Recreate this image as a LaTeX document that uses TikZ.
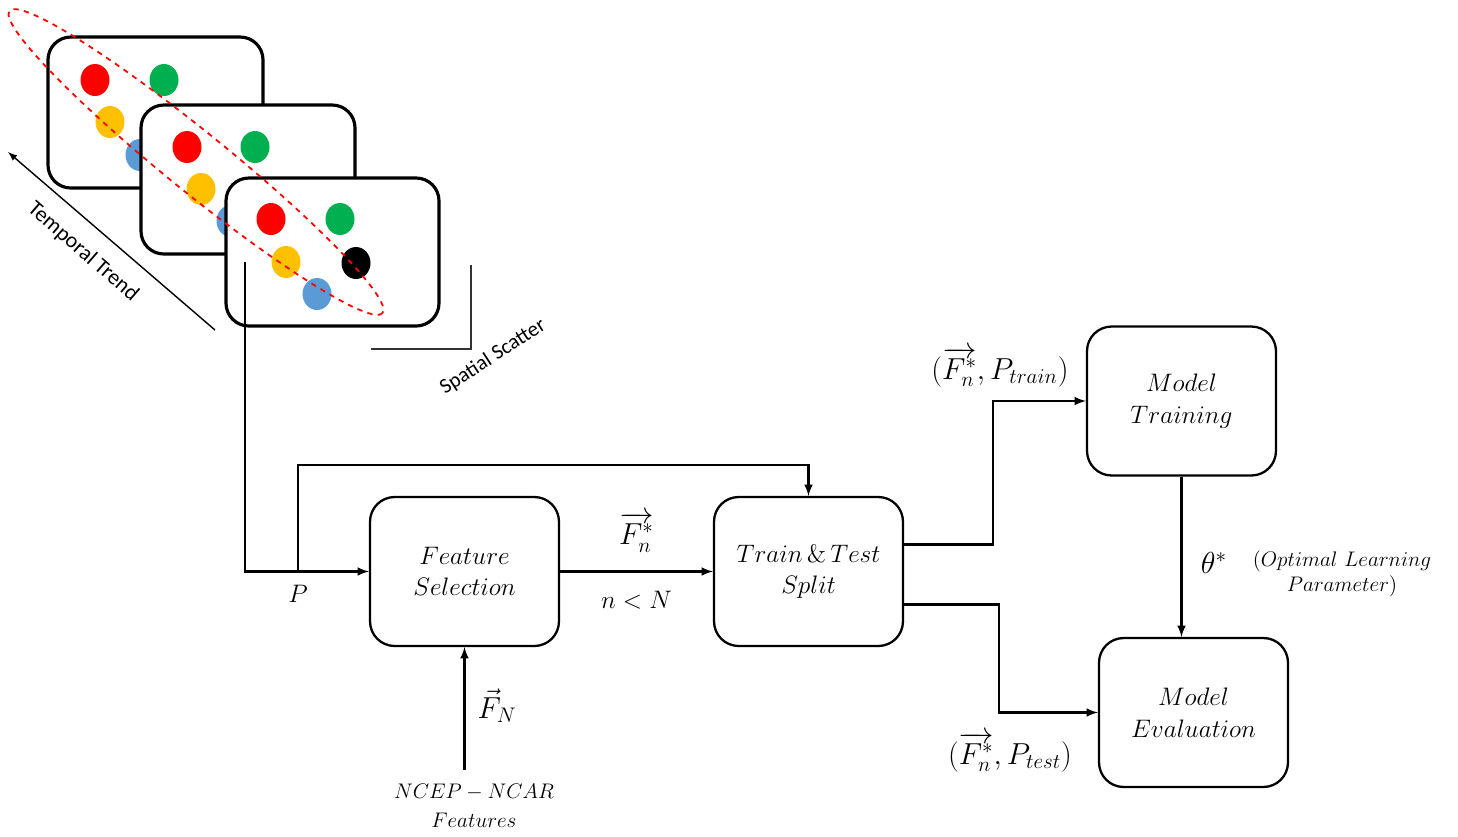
\documentclass[tikz,border=0pt]{standalone}
\usepackage{amsmath}
\usepackage{fontspec}
\newfontfamily\calfont{Carlito}
\usetikzlibrary{calc}
\definecolor{dotred}{RGB}{255,0,0}
\definecolor{dotgreen}{RGB}{0,176,80}
\definecolor{dotyellow}{RGB}{255,192,0}
\definecolor{dotblue}{RGB}{91,155,213}
\tikzset{
  stage/.style={draw, line width=1.3pt, rounded corners=14pt, minimum width=3.78cm,
    minimum height=2.98cm, align=center, font=\Large},
  frame/.style={draw, fill=white, line width=1.8pt, rounded corners=13pt},
  link/.style={->, line width=1.2pt},
  lbl/.style={font=\LARGE},
  dot/.style={x radius=14.5, y radius=16},
}

\begin{document}
\begin{tikzpicture}[x=0.02cm, y=-0.02cm, >=latex]
    \useasboundingbox (0,0) rectangle (1458,836);

    % 1. three snapshots, back to front
    \draw[frame] (48,37) rectangle (263,188);
    \fill[dotred] (95,80) ellipse [dot];
    \fill[dotgreen] (164,80) ellipse [dot];
    \fill[dotyellow] (110,122) ellipse [dot];
    \fill[dotblue] (140,155) ellipse [dot];

    \draw[frame] (141,105) rectangle (355,254);
    \fill[dotred] (187,147) ellipse [dot];
    \fill[dotgreen] (255,147) ellipse [dot];
    \fill[dotyellow] (201,189) ellipse [dot];
    \fill[dotblue] (231,221) ellipse [dot];

    \draw[frame] (226,178) rectangle (439,326);
    \fill[dotred] (271,219) ellipse [dot];
    \fill[dotgreen] (340,219) ellipse [dot];
    \fill[dotyellow] (286,262) ellipse [dot];
    \fill[black] (356,263) ellipse [dot];
    \fill[dotblue] (317,294) ellipse [dot];

    % 2. dashed selection ellipse
    \begin{scope}[shift={(196,162)}, rotate=-39]
        \draw[dotred, dashed, line width=1pt] (0,0) ellipse [x radius=240, y radius=30];
    \end{scope}

    % 3. temporal and spatial hints
    \coordinate (trendA) at (215,330);
    \coordinate (trendB) at (8,152);
    \draw[->, line width=0.8pt] (trendA) -- (trendB);
    \node[rotate=-41, font=\calfont\fontsize{12.5}{14}\selectfont] (trend) at (83,252) {Temporal Trend};
    \draw[black!80, line width=0.7pt] (471,265) -- (471,349) -- (371,349);
    \node[rotate=33, font=\calfont\fontsize{12}{14}\selectfont] (scatter) at (493,357) {Spatial Scatter};

    % 4. processing blocks
    \node[stage] (fs) at (464.5,571.5) {$Feature$\\$Selection$};
    \node[stage] (tt) at (808.5,571.5) {$Train\,\&\,Test$\\$Split$};
    \node[stage] (mt) at (1181.5,401) {$Model$\\$Training$};
    \node[stage] (me) at (1193.5,712.5) {$Model$\\$Evaluation$};
    \node[font=\fontsize{12}{16.5}\selectfont, align=center, inner sep=8pt] (ncep) at (474,806) {$NCEP-NCAR$\\$Features$};

    % 5. connectors
    \coordinate (tap) at (245,262);
    \coordinate (p) at (298,572);
    \draw[link] (tap) |- (fs.west);
    \node[font=\Large] (plbl) at (298,594) {$P$};
    \draw[link] (p) -- ++(0,-107) -| (tt.north);
    \draw[link] (fs.east) -- (tt.west)
        node[midway, above=7pt, lbl] (fstar) {$\overrightarrow{F_n^*}$}
        node[midway, below=7pt, font=\Large] (nlim) {$n<N$};
    \draw[link] (fs.south |- ncep.north) -- (fs.south);
    \node[lbl] (fn) at (497,706) {$\vec{F}_N$};
    \draw[link] ($(tt.east)+(0,-27)$) -- ++(89,0) |- (mt.west);
    \draw[link] ($(tt.east)+(0,33)$) -- ++(95,0) |- (me.west);
    \draw[link] (mt.south) -- (mt.south |- me.north);

    % 6. labels
    \node[lbl] (trainlbl) at (1000,367) {$(\overrightarrow{F_n^*},P_{train})$};
    \node[lbl] (testlbl) at (1010,752) {$(\overrightarrow{F_n^*},P_{test})$};
    \node[lbl] (theta) at (1214,563) {$\theta^*$};
    \node[font=\large, align=center] (optlbl) at (1342,574) {$(Optimal\ Learning$\\$Parameter)$};
\end{tikzpicture}
\end{document}
